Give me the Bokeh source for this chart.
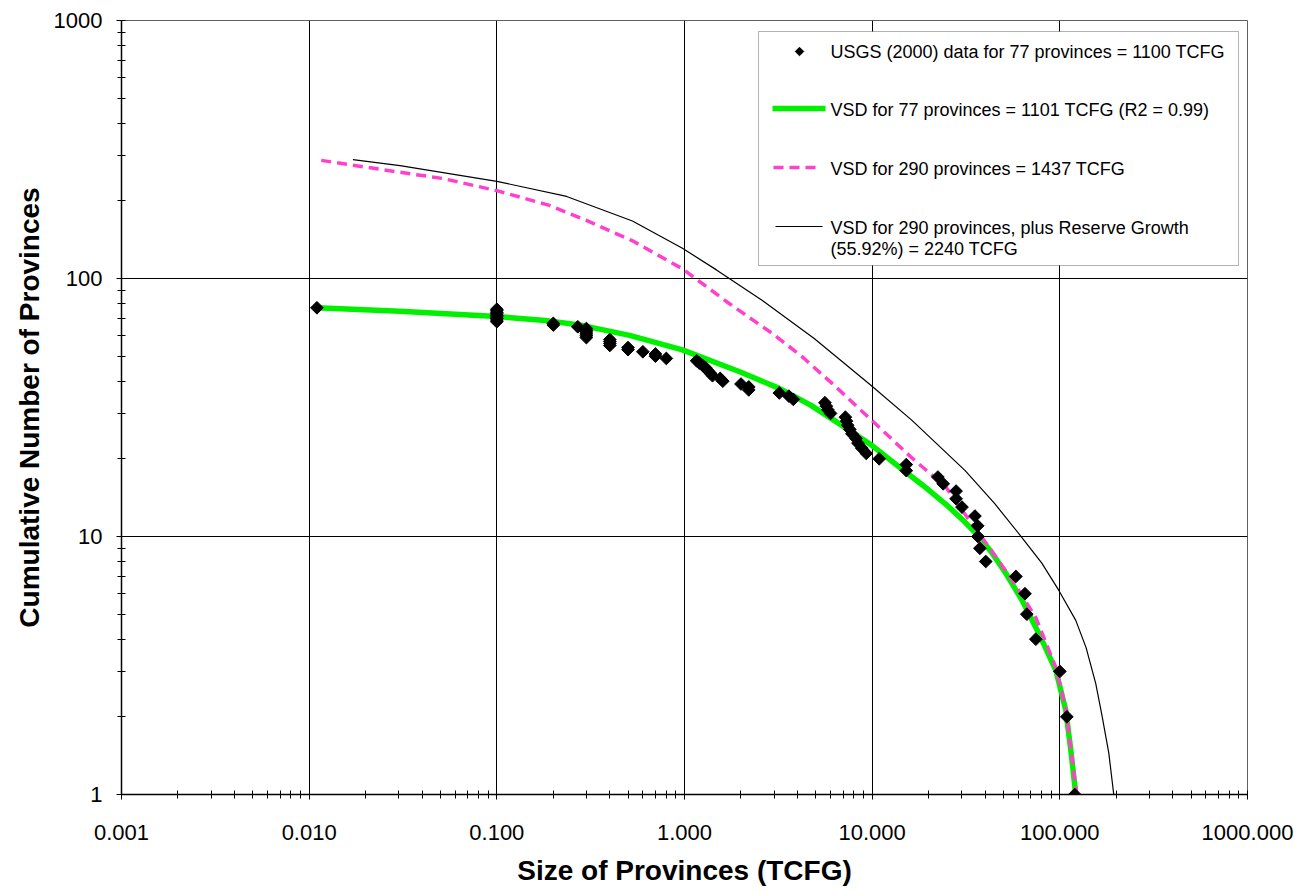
import math
from bokeh.plotting import figure
from bokeh.models import Range1d, FixedTicker, PrintfTickFormatter, BoxAnnotation, Label
from bokeh.embed import file_html
from bokeh.resources import INLINE

# ---------------- data ----------------
# USGS (2000) province sizes (TCFG) and their cumulative rank
obs_size = [120, 109, 100, 74.5, 66.7, 65.2, 58.3, 40.3, 37.5, 36.6,
            36.5, 35.3, 30.1, 28, 28, 23.9, 22.4, 15.2, 15.2, 10.9,
            9.3, 8.8, 8.4, 8.2, 7.8, 7.6, 7.4, 7.3, 7.2, 6.0,
            5.8, 5.7, 5.6, 3.8, 3.6, 3.2, 2.2, 2.2, 2.0, 1.6,
            1.55, 1.41, 1.37, 1.33, 1.3, 1.25, 1.2, 1.16, 0.8, 0.7,
            0.7, 0.6, 0.5, 0.5, 0.4, 0.4, 0.4, 0.4, 0.3, 0.3,
            0.3, 0.3, 0.3, 0.3, 0.27, 0.2, 0.2, 0.1, 0.1, 0.1,
            0.1, 0.1, 0.1, 0.1, 0.1, 0.1, 0.011]
obs_count = list(range(1, 78))

# VSD for 77 provinces
vsd77_x = [0.011, 0.0305, 0.1, 0.181, 0.275, 0.51, 0.975, 2.0, 3.2, 4.7,
           6.92, 10, 13.9, 18.6, 24.8, 30, 35.7, 43, 51.6, 63,
           77.3, 95.3, 107.6, 114.5, 121.6]
vsd77_y = [77, 74.7, 71.2, 68.8, 66.1, 60.2, 52.9, 43.3, 37.5, 32.3,
           26.9, 22.5, 18.6, 15.8, 13.3, 11.7, 10.3, 8.75, 7.19, 5.65,
           4.21, 3.02, 2.12, 1.48, 1.0]

# VSD for 290 provinces
vsd290_x = [0.0116, 0.0305, 0.0517, 0.1, 0.191, 0.3, 0.528, 0.975, 1.73, 2.94,
            4.2, 6.12, 10.9, 16, 24.8, 32, 41.9, 56, 74.5, 95.3,
            107.6, 114.5, 123]
vsd290_y = [287, 258, 244, 219, 192, 168, 140, 109, 80.0, 61.2,
            50, 39.2, 26.5, 20.4, 15.5, 11.9, 9.1, 6.75, 4.85, 3.1,
            2.15, 1.5, 1.0]

# VSD for 290 provinces plus reserve growth
vsdrg_x = [0.0171, 0.0305, 0.1, 0.2355, 0.528, 0.975, 1.48, 2.60, 4.91, 9.88,
           16.3, 31.3, 45, 62.8, 80, 98.8, 121.6, 138, 155.4, 167.2,
           182.3, 193.8]
vsdrg_y = [289, 274, 238, 208, 167, 131, 108, 82.2, 58.5, 38.5,
           28.2, 18.0, 13.4, 9.91, 7.9, 6.18, 4.73, 3.71, 2.69, 2.05,
           1.45, 1.0]

x_major = [0.001, 0.01, 0.1, 1, 10, 100, 1000]
y_major = [1, 10, 100, 1000]

legend_labels = ["USGS (2000) data for 77 provinces = 1100 TCFG",
                 "VSD for 77 provinces = 1101 TCFG (R2  = 0.99)",
                 "VSD for 290 provinces = 1437 TCFG",
                 "VSD for 290 provinces, plus Reserve  Growth",
                 "(55.92%) = 2240 TCFG"]

# ---------------- layout helpers (page pixels -> data) ----------------
FL, FR, FT, FB = 121, 1247, 20, 794
def px2x(px):
    return 10 ** (-3 + 6.0 * (px - FL) / (FR - FL))
def py2y(py):
    return 10 ** (3.0 * (FB - py) / (FB - FT))

FONT = "Liberation Sans"
GREEN = "#00F000"
PINK = "#FF40CC"

x_minor = [m * d for d in [0.001, 0.01, 0.1, 1, 10, 100] for m in range(2, 10)]
y_minor = [m * d for d in [1, 10, 100] for m in range(2, 10)]

W, H = 1300, 892
p = figure(width=W, height=H, x_axis_type="log", y_axis_type="log",
           x_range=Range1d(0.001, 1000), y_range=Range1d(1, 1000),
           output_backend="svg", toolbar_location=None,
           min_border_left=FL, min_border_right=W - FR,
           min_border_top=FT, min_border_bottom=H - FB)

p.background_fill_color = "white"
p.border_fill_color = "white"
p.outline_line_color = "#606060"
p.outline_line_width = 1

p.xaxis.ticker = FixedTicker(ticks=x_major, minor_ticks=x_minor)
p.yaxis.ticker = FixedTicker(ticks=y_major, minor_ticks=y_minor)
p.xaxis.formatter = PrintfTickFormatter(format="%.3f")
p.yaxis.formatter = PrintfTickFormatter(format="%d")

for ax in (p.xaxis[0], p.yaxis[0]):
    ax.axis_line_color = "black"
    ax.axis_line_width = 1.5
    ax.major_tick_line_color = "black"
    ax.minor_tick_line_color = "black"
    ax.major_tick_in = 4
    ax.major_tick_out = 5
    ax.minor_tick_in = 4
    ax.minor_tick_out = 4
    ax.major_label_text_font = FONT
    ax.major_label_text_font_size = "22px"
    ax.major_label_text_color = "black"
    ax.axis_label_text_font = FONT
    ax.axis_label_text_font_size = "28px"
    ax.axis_label_text_font_style = "bold"
    ax.axis_label_text_color = "black"

p.xaxis.axis_label = "Size of Provinces (TCFG)"
p.yaxis.axis_label = "Cumulative Number of Provinces"
p.xaxis.major_label_standoff = 25
p.yaxis.major_label_standoff = 14
p.xaxis.axis_label_standoff = 12
p.yaxis.axis_label_standoff = 6

for g in (p.xgrid[0], p.ygrid[0]):
    g.grid_line_color = "black"
    g.grid_line_width = 1
    g.grid_line_alpha = 1.0

# curves
p.line(vsd77_x, vsd77_y, line_color=GREEN, line_width=5.5, line_join="round")
p.line(vsd290_x, vsd290_y, line_color=PINK, line_width=3.5, line_dash="10 6")
p.line(vsdrg_x, vsdrg_y, line_color="black", line_width=1.2)
p.scatter(obs_size, obs_count, marker="square", angle=math.pi / 4, size=9,
          fill_color="black", line_color="black")

# legend (drawn by hand, like the original)
box = BoxAnnotation(left=px2x(758), right=px2x(1238), top=py2y(31), bottom=py2y(265),
                    fill_color="white", fill_alpha=1.0, line_color="black", line_width=1)
p.add_layout(box)

p.scatter([px2x(799)], [py2y(51)], marker="square", angle=math.pi / 4, size=6,
          fill_color="black", line_color="black", level="overlay")
p.line([px2x(772), px2x(825)], [py2y(108)] * 2, line_color=GREEN, line_width=5.5,
       level="overlay")
p.line([px2x(773), px2x(821)], [py2y(167)] * 2, line_color=PINK, line_width=3.5,
       line_dash="10 6", level="overlay")
p.line([px2x(775), px2x(822)], [py2y(226)] * 2, line_color="black", line_width=1.2,
       level="overlay")

for lab, py in zip(legend_labels, [51, 109, 168, 227, 248]):
    p.add_layout(Label(x=px2x(830), y=py2y(py), text=lab, text_font=FONT,
                       text_font_size="18px", text_baseline="middle",
                       text_align="left", text_color="black"))

open("out.html", "w").write(file_html(p, INLINE))
